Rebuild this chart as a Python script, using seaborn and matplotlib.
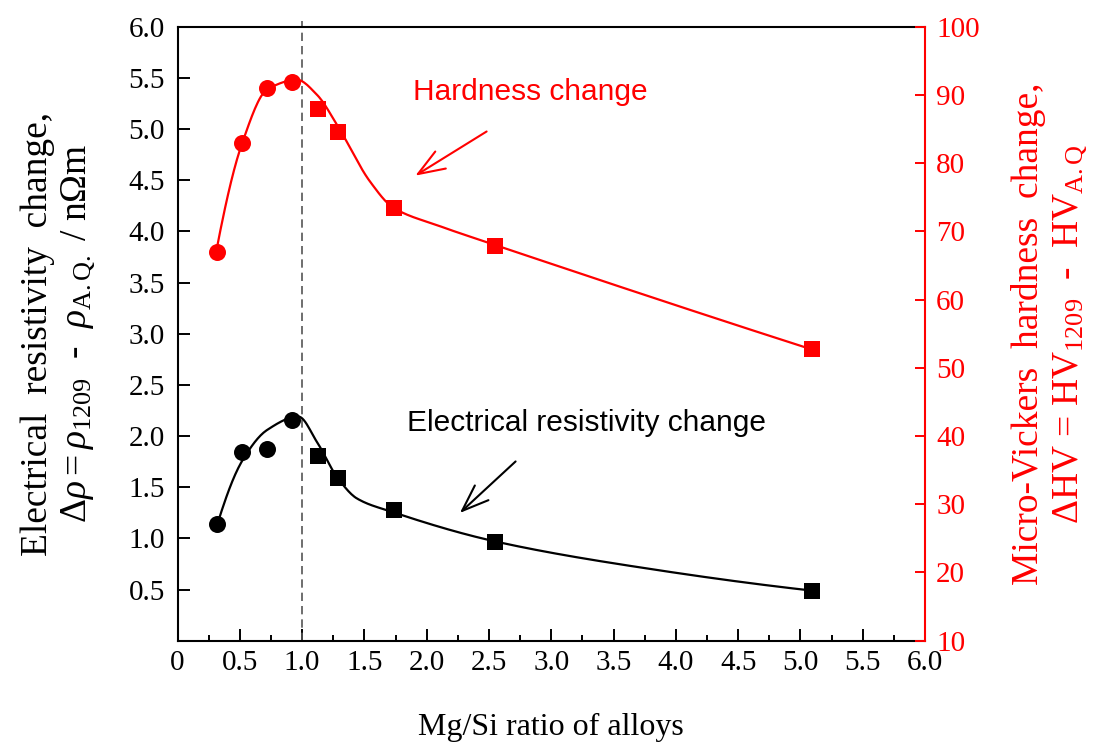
import numpy as np
import pandas as pd
import matplotlib
matplotlib.use("Agg")
import matplotlib.pyplot as plt
import seaborn as sns
from matplotlib.ticker import MultipleLocator, FuncFormatter

# ---------------- data ----------------
ratio_circle = [0.32, 0.52, 0.72, 0.92]
ratio_square = [1.13, 1.29, 1.74, 2.55, 5.09]
resist_circle = [1.14, 1.84, 1.87, 2.16]
resist_square = [1.80, 1.59, 1.28, 0.96, 0.49]
hard_circle = [67.0, 83.0, 91.0, 91.9]
hard_square = [87.9, 84.6, 73.4, 67.9, 52.7]

# smooth fit curves
resist_fit_x = [0.32, 0.52, 0.72, 0.97, 1.12, 1.28, 1.44, 1.72, 2.55, 3.8, 5.09]
resist_fit_y = [1.14, 1.76, 2.06, 2.19, 1.94, 1.60, 1.39, 1.26, 0.97, 0.70, 0.49]
hard_fit_x = [0.31, 0.52, 0.72, 0.96, 1.12, 1.29, 1.545, 1.73, 2.1, 2.55, 5.09]
hard_fit_y = [67.0, 83.0, 90.8, 92.2, 90.0, 85.3, 77.3, 73.5, 70.8, 68.0, 52.7]

x_ticks = [0, 0.5, 1.0, 1.5, 2.0, 2.5, 3.0, 3.5, 4.0, 4.5, 5.0, 5.5, 6.0]
ref_ratio = 1.0


def pchip(xk, yk, xn):
    xk = np.asarray(xk, float)
    yk = np.asarray(yk, float)
    h = np.diff(xk)
    d = np.diff(yk) / h
    n = len(xk)
    m = np.zeros(n)
    for k in range(1, n - 1):
        if d[k - 1] * d[k] > 0:
            w1 = 2 * h[k] + h[k - 1]
            w2 = h[k] + 2 * h[k - 1]
            m[k] = (w1 + w2) / (w1 / d[k - 1] + w2 / d[k])
    m0 = ((2 * h[0] + h[1]) * d[0] - h[0] * d[1]) / (h[0] + h[1])
    if np.sign(m0) != np.sign(d[0]):
        m0 = 0
    m[0] = m0
    me = ((2 * h[-1] + h[-2]) * d[-1] - h[-1] * d[-2]) / (h[-1] + h[-2])
    if np.sign(me) != np.sign(d[-1]):
        me = 0
    m[-1] = me
    idx = np.clip(np.searchsorted(xk, xn) - 1, 0, n - 2)
    t = (xn - xk[idx]) / h[idx]
    h00 = 2 * t**3 - 3 * t**2 + 1
    h10 = t**3 - 2 * t**2 + t
    h01 = -2 * t**3 + 3 * t**2
    h11 = t**3 - t**2
    return (h00 * yk[idx] + h10 * h[idx] * m[idx] +
            h01 * yk[idx + 1] + h11 * h[idx] * m[idx + 1])


xs_r = np.linspace(resist_fit_x[0], resist_fit_x[-1], 400)
ys_r = pchip(resist_fit_x, resist_fit_y, xs_r)
xs_h = np.linspace(hard_fit_x[0], hard_fit_x[-1], 400)
ys_h = pchip(hard_fit_x, hard_fit_y, xs_h)

# ---------------- style ----------------
sns.set_theme(style="ticks")
plt.rcParams["font.family"] = ["Liberation Serif", "DejaVu Serif"]
plt.rcParams["mathtext.fontset"] = "custom"
plt.rcParams["mathtext.rm"] = "Liberation Serif"
plt.rcParams["mathtext.it"] = "Liberation Serif:italic"
plt.rcParams["mathtext.bf"] = "Liberation Serif:bold"
plt.rcParams["text.color"] = "black"
plt.rcParams["axes.labelcolor"] = "black"
plt.rcParams["xtick.color"] = "black"
plt.rcParams["ytick.color"] = "black"

RED = "#ff0000"

fig = plt.figure(figsize=(11, 7.47), dpi=100)
ax = fig.add_axes([0.1614, 0.1423, 0.6795, 0.8220])
ax2 = ax.twinx()

# black series (left axis)
sns.lineplot(x=xs_r, y=ys_r, ax=ax, color="black", lw=1.6, sort=False, zorder=3)
sns.scatterplot(x=ratio_circle, y=resist_circle, ax=ax, marker="o", s=150,
                color="black", edgecolor="black", linewidth=0, zorder=4)
sns.scatterplot(x=ratio_square, y=resist_square, ax=ax, marker="s", s=125,
                color="black", edgecolor="black", linewidth=0, zorder=4)

# red series (right axis)
sns.lineplot(x=xs_h, y=ys_h, ax=ax2, color=RED, lw=1.6, sort=False, zorder=3)
sns.scatterplot(x=ratio_circle, y=hard_circle, ax=ax2, marker="o", s=150,
                color=RED, edgecolor=RED, linewidth=0, zorder=4)
sns.scatterplot(x=ratio_square, y=hard_square, ax=ax2, marker="s", s=125,
                color=RED, edgecolor=RED, linewidth=0, zorder=4)

# dashed reference line
ax.plot([ref_ratio, ref_ratio], [0, 6.06], ls=(0, (5, 3)), color="#555555",
        lw=1.2, clip_on=False, zorder=2)

# axes limits / ticks
ax.set_xlim(0, 6.0)
ax.set_ylim(0, 6.0)
ax2.set_ylim(10, 100)
ax.set_xticks(x_ticks)
ax.xaxis.set_minor_locator(MultipleLocator(0.25))
ax.yaxis.set_major_locator(MultipleLocator(0.5))
ax2.yaxis.set_major_locator(MultipleLocator(10))
ax.xaxis.set_major_formatter(FuncFormatter(lambda v, p: "0" if abs(v) < 1e-9 else f"{v:.1f}"))
ax.yaxis.set_major_formatter(FuncFormatter(lambda v, p: "" if abs(v) < 1e-9 else f"{v:.1f}"))
ax2.yaxis.set_major_formatter(FuncFormatter(lambda v, p: f"{v:.0f}"))

ax.tick_params(axis="x", which="major", direction="in", length=8.5, width=1.4,
               labelsize=21, pad=7, colors="black", top=False)
ax.tick_params(axis="x", which="minor", direction="in", length=4.5, width=1.4, top=False)
ax.tick_params(axis="y", which="major", direction="in", length=8.5, width=1.4,
               labelsize=21, pad=9, colors="black", right=False)
ax2.tick_params(axis="y", which="major", direction="in", length=7, width=1.4,
                labelsize=21, pad=8, colors=RED)

for s in ["left", "bottom", "top"]:
    ax.spines[s].set_linewidth(1.5)
    ax.spines[s].set_color("black")
ax.spines["right"].set_visible(False)
for s in ["left", "bottom", "top"]:
    ax2.spines[s].set_visible(False)
ax2.spines["right"].set_color(RED)
ax2.spines["right"].set_linewidth(1.5)
ax.grid(False)
ax2.grid(False)

# labels
ax.set_xlabel("Mg/Si ratio of alloys", fontsize=23, color="black")
ax.xaxis.set_label_coords(0.5, -0.117)
ax.set_ylabel("Electrical  resistivity  change,\n"
              r"$\Delta\rho = \rho_{1209}$  -  $\rho_{\mathrm{A.Q.}}$ / n$\Omega$m",
              fontsize=27, linespacing=1.2, multialignment="center", color="black")
ax.yaxis.set_label_coords(-0.106, 0.5)
ax2.set_ylabel("Micro-Vickers  hardness  change,\n"
               r"$\Delta$HV = HV$_{1209}$  -  HV$_{\mathrm{A.Q}}$",
               fontsize=27, color=RED, linespacing=1.2, multialignment="center",
               rotation=90)
ax2.yaxis.set_label_coords(1.115, 0.5)

# annotations
ax.text(1.89, 5.36, "Hardness change", color=RED, fontsize=21.5,
        family=["Liberation Sans"], ha="left", va="center")
ax.annotate("", xy=(1.89, 4.53), xytext=(2.50, 4.99),
            arrowprops=dict(arrowstyle="->,head_length=1.6,head_width=0.6",
                            color=RED, lw=1.5))
ax.text(1.84, 2.13, "Electrical resistivity change", color="black", fontsize=21.5,
        family=["Liberation Sans"], ha="left", va="center")
ax.annotate("", xy=(2.25, 1.23), xytext=(2.73, 1.77),
            arrowprops=dict(arrowstyle="->,head_length=1.6,head_width=0.6",
                            color="black", lw=1.5))

fig.savefig("out.png", dpi=100)
